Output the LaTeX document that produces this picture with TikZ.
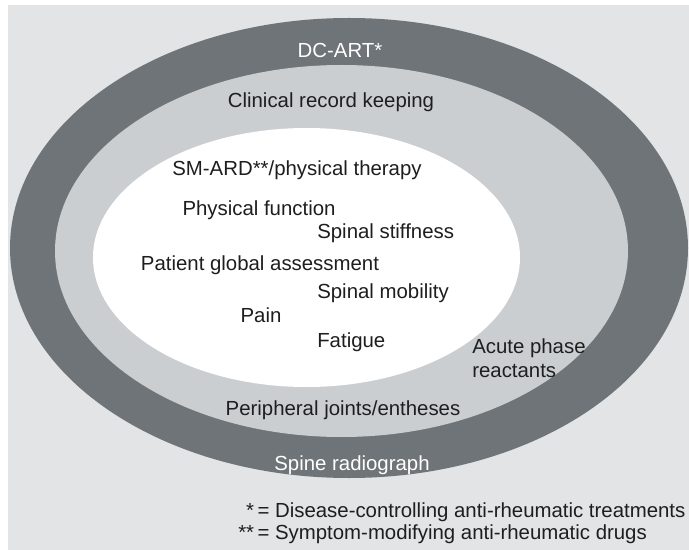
\documentclass[tikz,border=0pt]{standalone}
\usepackage{fontspec}
\setmainfont{Liberation Sans}
\definecolor{bggray}{RGB}{226, 228, 229}
\definecolor{ringdark}{RGB}{110, 116, 120}
\definecolor{ringlight}{RGB}{203, 206, 209}
\definecolor{textdark}{RGB}{30, 30, 30}
\usetikzlibrary{positioning}

\begin{document}
\begin{tikzpicture}[x=0.025cm, y=-0.025cm,
  lbl/.style={font=\fontsize{14.5}{17}\selectfont, text=textdark, inner sep=0pt},
  lblwhite/.style={lbl, text=white}]
  \useasboundingbox (0,0) rectangle (689,550);
  % Background
  \fill[bggray] (8,5) rectangle (689,550);

  % Rings
  \fill[ringdark] (349,248) ellipse [x radius=339, y radius=230];
  \fill[ringlight] (341.5,251) ellipse [x radius=286.5, y radius=186];
  \fill[white] (306.5,257.5) ellipse [x radius=213.5, y radius=129.5];

  % Outer ring
  \node[lblwhite] (dcart) at (340,50) {DC-ART*};
  \node[lblwhite] (spine) at (352,465) {Spine radiograph};

  % Middle ring
  \node[lbl] (clinical) at (331,102) {Clinical record keeping};
  \node[lbl, anchor=west, align=left] (acute) at (472,358) {Acute phase\\reactants};
  \node[lbl] (periph) at (343,410) {Peripheral joints/entheses};

  % Inner core
  \node[lbl] (smard) at (297,170) {SM-ARD**/physical therapy};
  \node[lbl] (physfunc) at (259,210) {Physical function};
  \node[lbl, anchor=west] (stiff) at (317,233) {Spinal stiffness};
  \node[lbl] (global) at (260,265) {Patient global assessment};
  \node[lbl, anchor=west] (mobil) at (317,293) {Spinal mobility};
  \node[lbl] (pain) at (261,315) {Pain};
  \node[lbl, anchor=west] (fatigue) at (317,342) {Fatigue};

  % Key
  \node[lbl, anchor=north west, align=left] (key) at (238,500) {%
    \begin{tabular}{@{}r@{\,}l@{}}
      * & = Disease-controlling anti-rheumatic treatments\\[-1pt]
      ** & = Symptom-modifying anti-rheumatic drugs
    \end{tabular}};
\end{tikzpicture}
\end{document}
